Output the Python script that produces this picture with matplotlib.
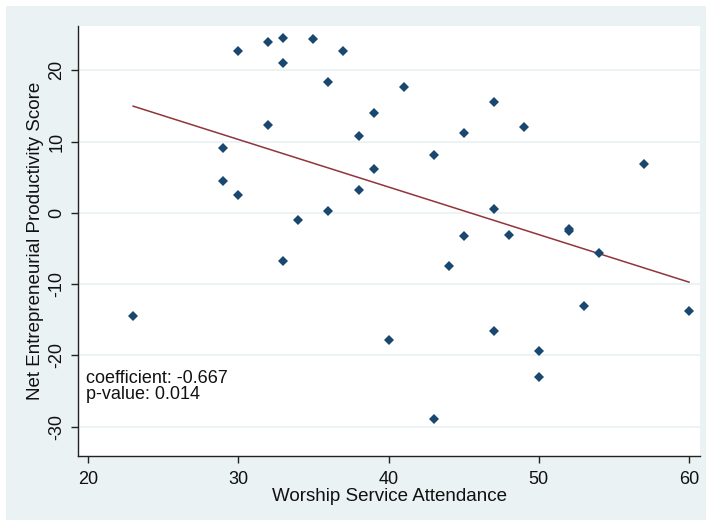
import matplotlib
matplotlib.use("Agg")
import numpy as np
from matplotlib import pyplot as plt
from matplotlib.patches import Rectangle

# worship service attendance vs net entrepreneurial productivity score
attendance = [23, 29, 29, 30, 30, 32, 32, 33, 33, 33,
              34, 35, 36, 36, 37, 38, 38, 39, 39, 40,
              41, 43, 43, 44, 45, 45, 47, 47, 47, 48,
              49, 50, 50, 52, 52, 53, 54, 57, 60]
productivity = [-14.4, 9.1, 4.5, 2.5, 22.7, 24.0, 12.3, 24.5, 21.0, -6.7,
                -1.0, 24.4, 18.4, 0.2, 22.7, 10.8, 3.2, 14.0, 6.2, -17.9,
                17.6, 8.1, -28.9, -7.5, 11.2, -3.3, 15.5, 0.6, -16.6, -3.1,
                12.1, -19.4, -23.0, -2.3, -2.6, -13.0, -5.7, 6.8, -13.7]

coefficient = -0.667
intercept = 30.3
p_value = 0.014

x_ticks = [20, 30, 40, 50, 60]
y_ticks = [-30, -20, -10, 0, 10, 20]

W, H = 706, 520
plt.rcParams['font.family'] = ['Liberation Sans', 'DejaVu Sans']

fig = plt.figure(figsize=(W / 100, H / 100), dpi=100, facecolor="white")
# stata-like graph region behind the plot
fig.add_artist(Rectangle((6 / W, 0), 1 - 6 / W, 1 - 6 / H,
                         transform=fig.transFigure, facecolor="#eaf2f3",
                         edgecolor="none", zorder=-10))

ax = fig.add_axes([78 / W, 64 / H, 622 / W, 430 / H])
ax.set_facecolor("white")

for y in y_ticks:
    ax.axhline(y, color="#eaf2f3", lw=1.3, zorder=1)

ax.plot(attendance, productivity, linestyle="none", marker="D",
        markersize=4.6, color="#1a476f", markeredgewidth=0, zorder=3)

xs = np.array([min(attendance), max(attendance)])
ax.plot(xs, intercept + coefficient * xs, color="#90353b", lw=1.1, zorder=2)

ax.set_xlim(19.33, 60.73)
ax.set_ylim(-34.1, 26.2)
ax.set_xticks(x_ticks)
ax.set_yticks(y_ticks)
ax.set_yticklabels([str(v) for v in y_ticks], rotation=90, va="center")

for side in ("top", "right"):
    ax.spines[side].set_visible(False)
for side in ("left", "bottom"):
    ax.spines[side].set_color("#222222")
    ax.spines[side].set_linewidth(1.0)

ax.tick_params(axis="both", length=5, width=1, color="#222222",
               labelsize=13, labelcolor="#111111")
ax.tick_params(axis="x", pad=6)
ax.tick_params(axis="y", pad=4)

ax.set_xlabel("Worship Service Attendance", fontsize=13.5, color="#111111", labelpad=0)
ax.set_ylabel("Net Entrepreneurial Productivity Score", fontsize=13.5,
              color="#111111", labelpad=3)

ax.text(19.33 + 0.5, -22.0, f"coefficient: {coefficient}\np-value: {p_value}",
        fontsize=13, color="#111111", va="top", ha="left", linespacing=0.95)

fig.savefig("out.png", dpi=100, facecolor="white")
